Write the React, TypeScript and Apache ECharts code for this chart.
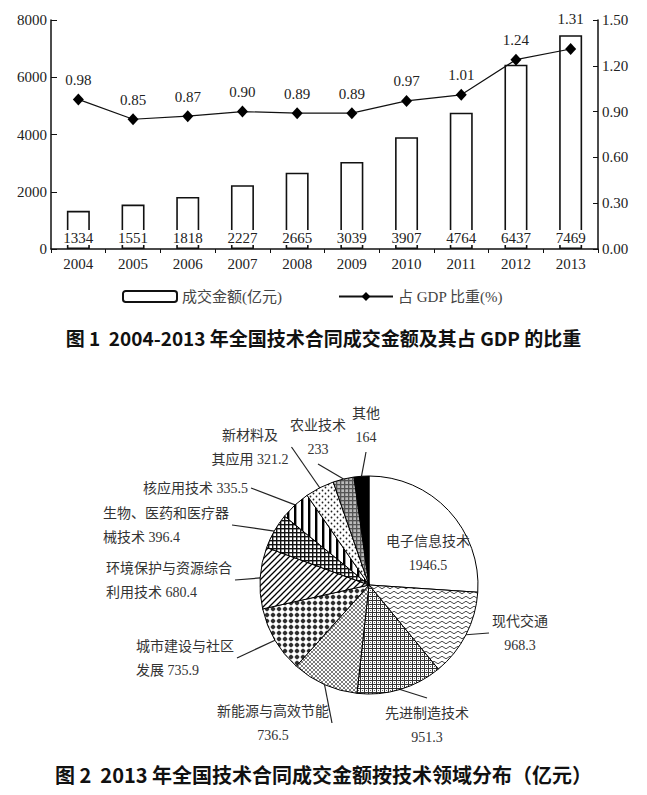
import React, { useEffect, useRef } from 'react';
import * as echarts from 'echarts';

// ---------- data ----------
const years = ['2004', '2005', '2006', '2007', '2008', '2009', '2010', '2011', '2012', '2013'];
const dealAmounts = [1334, 1551, 1818, 2227, 2665, 3039, 3907, 4764, 6437, 7469];
const gdpShare = [0.98, 0.85, 0.87, 0.9, 0.89, 0.89, 0.97, 1.01, 1.24, 1.31];
const amountTicks = [0, 2000, 4000, 6000, 8000];
const shareTicks = [0, 0.3, 0.6, 0.9, 1.2, 1.5];
const barSeriesName = '成交金额(亿元)';
const lineSeriesName = '占 GDP 比重(%)';

const fieldNames = [
  '电子信息技术',
  '现代交通',
  '先进制造技术',
  '新能源与高效节能',
  '城市建设与社区\n发展',
  '环境保护与资源综合\n利用技术',
  '生物、医药和医疗器\n械技术',
  '核应用技术',
  '新材料及\n其应用',
  '农业技术',
  '其他',
];
const fieldValues = [1946.5, 968.3, 951.3, 736.5, 735.9, 680.4, 396.4, 335.5, 321.2, 233, 164];
const valueOnNewLine = [true, true, true, true, false, false, false, false, false, true, true];

const title1 = '图 1  2004-2013 年全国技术合同成交金额及其占 GDP 的比重';
const title2 = '图 2  2013 年全国技术合同成交金额按技术领域分布（亿元）';

// ---------- label placement (layout, px) ----------
const pieLabelSpots: [number, number, string][] = [
  [428, 553, 'center'],
  [520, 633, 'center'],
  [427, 725, 'center'],
  [273, 723, 'center'],
  [133, 658, 'left'],
  [103, 580, 'left'],
  [100, 525, 'left'],
  [140, 488, 'left'],
  [250, 447, 'center'],
  [318, 437, 'center'],
  [366, 425, 'center'],
];

const SERIF = '"Liberation Serif", "Noto Sans CJK SC", serif';
const CJK = '"Noto Sans CJK SC", sans-serif';

type Drawer = (g: CanvasRenderingContext2D, w: number, h: number) => void;
function tile(w: number, h: number, draw: Drawer, bg = '#fff') {
  const c = document.createElement('canvas');
  c.width = w;
  c.height = h;
  const g = c.getContext('2d')!;
  g.fillStyle = bg;
  g.fillRect(0, 0, w, h);
  draw(g, w, h);
  return { image: c.toDataURL(), repeat: 'repeat', imageWidth: w, imageHeight: h };
}

function makePatterns(): any[] {
  const waves = tile(8, 5, (g) => {
    g.strokeStyle = '#333';
    g.lineWidth = 0.9;
    g.beginPath();
    g.moveTo(0, 2.5);
    g.quadraticCurveTo(2, 0, 4, 2.5);
    g.quadraticCurveTo(6, 5, 8, 2.5);
    g.stroke();
  });
  const checker = tile(4, 4, (g) => {
    g.fillStyle = '#333';
    g.fillRect(0, 0, 4, 1);
    g.fillRect(0, 0, 1, 4);
    g.fillStyle = '#666';
    g.fillRect(2, 2, 1, 1);
  });
  const crossFine = tile(4, 4, (g) => {
    g.strokeStyle = '#444';
    g.lineWidth = 0.7;
    g.beginPath();
    g.moveTo(0, 0); g.lineTo(4, 4);
    g.moveTo(4, 0); g.lineTo(0, 4);
    g.stroke();
  });
  const bigDots = tile(6, 6, (g) => {
    g.fillStyle = '#000';
    g.beginPath();
    g.arc(3, 3, 2.0, 0, Math.PI * 2);
    g.fill();
    g.strokeStyle = '#666';
    g.lineWidth = 0.5;
    g.beginPath();
    g.moveTo(0, 3); g.lineTo(6, 3);
    g.moveTo(3, 0); g.lineTo(3, 6);
    g.stroke();
  });
  const diag = tile(6, 6, (g) => {
    g.strokeStyle = '#000';
    g.lineWidth = 1.3;
    g.beginPath();
    g.moveTo(-1, 7); g.lineTo(7, -1);
    g.moveTo(-4, 4); g.lineTo(4, -4);
    g.moveTo(2, 10); g.lineTo(10, 2);
    g.stroke();
  });
  const darkGrid = tile(4, 4, (g) => {
    g.fillStyle = '#111';
    g.fillRect(0, 0, 4, 1.4);
    g.fillRect(0, 0, 1.4, 4);
  });
  const stripes = tile(7, 2, (g) => {
    g.fillStyle = '#000';
    g.fillRect(0, 0, 2.4, 2);
  });
  const sparseDots = tile(6, 6, (g) => {
    g.fillStyle = '#222';
    g.beginPath();
    g.arc(1.5, 1.5, 0.9, 0, Math.PI * 2);
    g.arc(4.5, 4.5, 0.9, 0, Math.PI * 2);
    g.fill();
  });
  const grayGrid = tile(4, 4, (g) => {
    g.fillStyle = '#555';
    g.fillRect(0, 0, 4, 1.3);
    g.fillRect(0, 0, 1.3, 4);
  }, '#bbb');
  return ['#ffffff', waves, checker, crossFine, bigDots, diag, darkGrid, stripes, sparseDots, grayGrid, '#000000'];
}

export default function App() {
  const ref = useRef<HTMLDivElement>(null);
  useEffect(() => {
    if (!ref.current) return;
    const chart = echarts.init(ref.current, null, { renderer: 'svg' });
    const patterns = makePatterns();

    const amountMax = amountTicks[amountTicks.length - 1];
    const shareMax = shareTicks[shareTicks.length - 1];

    const pieData = fieldNames.map((name, i) => ({
      name,
      value: fieldValues[i],
      itemStyle: { color: patterns[i] },
      label: i === 0 ? { position: 'inside' } : undefined,
      labelLine: i === 0 ? { show: false } : undefined,
    }));

    // raise a point's label when its bar reaches above the point
    const lineData = gdpShare.map((v, i) => ({
      value: v,
      label: { distance: dealAmounts[i] / amountMax > v / shareMax ? 17 : 6 },
    }));

    const option: any = {
      animation: false,
      backgroundColor: '#fff',
      title: [
        {
          text: title1,
          left: 'center',
          top: 323,
          textStyle: { fontSize: 19, fontWeight: 'bold', color: '#111', fontFamily: CJK },
        },
        {
          text: title2,
          left: 'center',
          top: 759,
          textStyle: { fontSize: 20, fontWeight: 'bold', color: '#111', fontFamily: CJK },
        },
      ],
      legend: {
        data: [barSeriesName, lineSeriesName],
        left: 122,
        top: 289,
        padding: 0,
        itemWidth: 54,
        itemHeight: 11,
        itemGap: 56,
        textStyle: { fontSize: 15, color: '#444', fontFamily: SERIF },
      },
      grid: { left: 51, right: 49, top: 20, bottom: 546, containLabel: false },
      xAxis: {
        type: 'category',
        data: years,
        boundaryGap: true,
        axisLine: { show: true, lineStyle: { color: '#111', width: 1.5 } },
        axisTick: { show: true, length: 4, lineStyle: { color: '#111' } },
        axisLabel: { color: '#222', fontSize: 15, fontFamily: SERIF, margin: 7 },
      },
      yAxis: [
        {
          type: 'value',
          min: amountTicks[0],
          max: amountMax,
          interval: amountTicks[1] - amountTicks[0],
          axisLine: { show: true, lineStyle: { color: '#111', width: 1.5 } },
          axisTick: { show: true, inside: true, length: 6, lineStyle: { color: '#111' } },
          axisLabel: {
            color: '#222',
            fontSize: 15,
            fontFamily: SERIF,
            margin: 4,
            formatter: (v: number) => String(v),
          },
          splitLine: { show: false },
        },
        {
          type: 'value',
          position: 'right',
          min: shareTicks[0],
          max: shareMax,
          interval: shareTicks[1] - shareTicks[0],
          axisLine: { show: true, lineStyle: { color: '#111', width: 1.5 } },
          axisTick: { show: true, inside: true, length: 5, lineStyle: { color: '#111' } },
          axisLabel: {
            color: '#222',
            fontSize: 15,
            fontFamily: SERIF,
            margin: 4,
            formatter: (v: number) => v.toFixed(2),
          },
          splitLine: { show: false },
        },
      ],
      series: [
        {
          name: barSeriesName,
          type: 'bar',
          data: dealAmounts,
          barWidth: 23,
          itemStyle: { color: '#fff', borderColor: '#111', borderWidth: 1.6 },
          label: {
            show: true,
            position: 'insideBottom',
            distance: 4,
            color: '#222',
            fontSize: 15,
            fontFamily: SERIF,
            backgroundColor: '#fff',
            lineHeight: 15,
          },
        },
        {
          name: lineSeriesName,
          type: 'line',
          yAxisIndex: 1,
          data: lineData,
          symbol: 'diamond',
          symbolSize: [11, 12],
          itemStyle: { color: '#000' },
          lineStyle: { color: '#111', width: 1.2 },
          label: {
            show: true,
            position: 'top',
            color: '#222',
            fontSize: 15,
            fontFamily: SERIF,
            formatter: (p: any) => Number(p.value).toFixed(2),
          },
          z: 5,
        },
        {
          type: 'pie',
          center: [369, 585],
          radius: 109,
          startAngle: 90,
          clockwise: true,
          avoidLabelOverlap: false,
          data: pieData,
          itemStyle: { borderColor: '#000', borderWidth: 1 },
          label: {
            show: true,
            color: '#333',
            fontSize: 14,
            lineHeight: 24,
            fontFamily: SERIF,
            padding: 3,
            formatter: (p: any) =>
              `${p.name}${valueOnNewLine[p.dataIndex] ? '\n' : ' '}${p.value}`,
          },
          labelLine: { show: true, length: 10, length2: 0, lineStyle: { color: '#222', width: 1.2 } },
          labelLayout: (p: any) => {
            const s = pieLabelSpots[p.dataIndex];
            return { x: s[0], y: s[1], align: s[2], verticalAlign: 'middle' };
          },
          emphasis: { disabled: true },
        },
      ],
    };
    chart.setOption(option);
    return () => chart.dispose();
  }, []);
  return (
    <div
      ref={ref}
      style={{ position: 'fixed', left: 0, top: 0, width: 647, height: 795, background: '#fff' }}
    />
  );
}
